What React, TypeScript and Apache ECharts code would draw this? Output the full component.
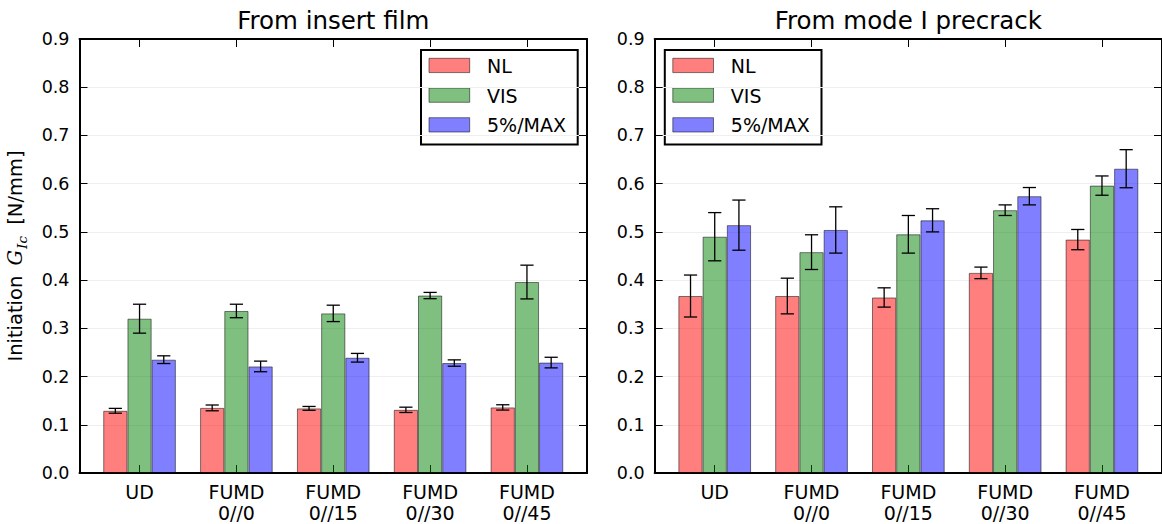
import React, { useEffect, useRef } from "react";
import * as echarts from "echarts";

const categories = ["UD", "FUMD\n0//0", "FUMD\n0//15", "FUMD\n0//30", "FUMD\n0//45"];
const seriesNames = ["NL", "VIS", "5%/MAX"];
const panelTitles = ["From insert film", "From mode I precrack"];

const insertNL = [0.129, 0.135, 0.134, 0.131, 0.136];
const insertNLErr = [0.005, 0.006, 0.004, 0.0055, 0.0055];
const insertVIS = [0.32, 0.336, 0.331, 0.368, 0.396];
const insertVISErr = [0.03, 0.014, 0.017, 0.0065, 0.035];
const insertMAX = [0.235, 0.221, 0.239, 0.228, 0.229];
const insertMAXErr = [0.008, 0.011, 0.009, 0.0066, 0.011];

const precrackNL = [0.367, 0.367, 0.364, 0.415, 0.484];
const precrackNLErr = [0.0435, 0.037, 0.02, 0.012, 0.021];
const precrackVIS = [0.49, 0.458, 0.495, 0.545, 0.596];
const precrackVISErr = [0.05, 0.036, 0.039, 0.011, 0.02];
const precrackMAX = [0.514, 0.504, 0.524, 0.574, 0.631];
const precrackMAXErr = [0.052, 0.048, 0.024, 0.018, 0.0395];

const FONT = "DejaVu Sans";
const colors = ["rgba(255,0,0,0.5)", "rgba(0,128,0,0.5)", "rgba(0,0,255,0.5)"];
const edge = "rgba(0,0,0,0.5)";
const BAR_UNIT = 0.25;
const X_MIN = -0.62;
const X_MAX = 4.62;

const panels = [
  { vals: [insertNL, insertVIS, insertMAX], errs: [insertNLErr, insertVISErr, insertMAXErr] },
  { vals: [precrackNL, precrackVIS, precrackMAX], errs: [precrackNLErr, precrackVISErr, precrackMAXErr] },
];

const grids = [
  { left: 79.5, top: 39, width: 507.5, height: 435 },
  { left: 654.7, top: 39, width: 508, height: 435 },
];

function buildOption() {
  const xAxis: any[] = [];
  const yAxis: any[] = [];
  const series: any[] = [];
  const graphic: any[] = [];
  const tickVals = categories.map((_, i) => i);

  grids.forEach((g, p) => {
    ["bottom", "top"].forEach((pos) => {
      xAxis.push({
        type: "value",
        gridIndex: p,
        position: pos,
        min: X_MIN,
        max: X_MAX,
        axisLine: { show: true, onZero: false, lineStyle: { color: "#000", width: 2 } },
        axisTick: { show: true, inside: true, length: 8, customValues: tickVals, lineStyle: { color: "#000", width: 1 } },
        axisLabel: {
          show: pos === "bottom",
          customValues: tickVals,
          formatter: (v: number) => categories[Math.round(v)],
          color: "#000",
          fontFamily: FONT,
          fontSize: 19,
          lineHeight: 21.5,
          margin: 8,
        },
        splitLine: { show: false },
      });
    });
    ["left", "right"].forEach((pos) => {
      yAxis.push({
        type: "value",
        gridIndex: p,
        position: pos,
        min: 0,
        max: 0.9,
        interval: 0.1,
        axisLine: { show: true, onZero: false, lineStyle: { color: "#000", width: 2 } },
        axisTick: { show: true, inside: true, length: 8, lineStyle: { color: "#000", width: 1 } },
        axisLabel: {
          show: pos === "left",
          formatter: (v: number) => v.toFixed(1),
          color: "#000",
          fontFamily: FONT,
          fontSize: 17.5,
          margin: 10,
        },
        splitLine: { show: pos === "left", lineStyle: { color: "#efefef", width: 1 } },
        ...(p === 0 && pos === "left"
          ? {
              name: "{n|Initiation }{g|G}{s|Ic}{n| [N/mm]}",
              nameLocation: "middle",
              nameRotate: 90,
              nameGap: 51,
              nameTextStyle: {
                rich: {
                  n: { fontFamily: FONT, fontSize: 19.5, color: "#000", lineHeight: 26, verticalAlign: "middle" },
                  g: { fontFamily: "DejaVu Serif", fontStyle: "italic", fontSize: 19.5, color: "#000", lineHeight: 26, verticalAlign: "middle", padding: [0, 1, 0, 4] },
                  s: { fontFamily: "DejaVu Serif", fontStyle: "italic", fontSize: 13.5, color: "#000", lineHeight: 13, verticalAlign: "bottom", padding: [0, 5, 0, 0] },
                },
              },
            }
          : {}),
      });
    });

    const xi = p * 2;
    const yi = p * 2;
    const pv = panels[p];
    seriesNames.forEach((name, k) => {
      series.push({
        type: "bar",
        name,
        xAxisIndex: xi,
        yAxisIndex: yi,
        barWidth: (g.width / (X_MAX - X_MIN)) * BAR_UNIT,
        barGap: "0%",
        itemStyle: { color: colors[k], borderColor: edge, borderWidth: 1 },
        data: pv.vals[k].map((v, i) => [i, v]),
        z: 2,
      });
    });
    const errData: number[][] = [];
    seriesNames.forEach((_, k) => {
      pv.vals[k].forEach((v, i) => {
        errData.push([i + (k - 1) * BAR_UNIT, v, pv.errs[k][i]]);
      });
    });
    series.push({
      type: "custom",
      name: "err" + p,
      xAxisIndex: xi,
      yAxisIndex: yi,
      z: 5,
      data: errData,
      renderItem: (params: any, api: any) => {
        const x = api.value(0);
        const y = api.value(1);
        const e = api.value(2);
        const top = api.coord([x, y + e]);
        const bot = api.coord([x, y - e]);
        const cap = 6.6;
        const st = { stroke: "#000", lineWidth: 1.3 };
        return {
          type: "group",
          children: [
            { type: "line", shape: { x1: top[0], y1: top[1], x2: bot[0], y2: bot[1] }, style: st },
            { type: "line", shape: { x1: top[0] - cap, y1: top[1], x2: top[0] + cap, y2: top[1] }, style: st },
            { type: "line", shape: { x1: bot[0] - cap, y1: bot[1], x2: bot[0] + cap, y2: bot[1] }, style: st },
          ],
        };
      },
    });

    // title
    graphic.push({
      type: "text",
      x: g.left + (p === 0 ? g.width : 507.3) / 2,
      y: 20,
      style: { text: panelTitles[p], fontFamily: FONT, fontSize: 24.5, fill: "#000", align: "center", verticalAlign: "middle" },
    });

    // legend
    const children: any[] = [
      { type: "rect", shape: { x: 0, y: 0, width: 156.7, height: 94.5 }, style: { fill: "#fff", stroke: "#000", lineWidth: 2 } },
    ];
    seriesNames.forEach((name, k) => {
      children.push({
        type: "rect",
        shape: { x: 8, y: 8.3 + k * 29.7, width: 40.7, height: 14.3 },
        style: { fill: colors[k], stroke: edge, lineWidth: 1 },
      });
      children.push({
        type: "text",
        x: 66,
        y: 15.8 + k * 29.7,
        style: { text: name, fontFamily: FONT, fontSize: 19, fill: "#000", align: "left", verticalAlign: "middle" },
      });
    });
    graphic.push({ type: "group", x: p === 0 ? 421 : 664.8, y: 50, z: 100, children });
  });

  return {
    animation: false,
    backgroundColor: "#fff",
    grid: grids.map((g) => ({ ...g, containLabel: false })),
    xAxis,
    yAxis,
    series,
    graphic,
  };
}

export default function App() {
  const ref = useRef<HTMLDivElement>(null);
  useEffect(() => {
    if (!ref.current) return;
    const chart = echarts.init(ref.current, undefined, { renderer: "svg" });
    chart.setOption(buildOption() as any);
    return () => chart.dispose();
  }, []);
  return (
    <div
      ref={ref}
      style={{ position: "fixed", left: 0, top: 0, width: 1162, height: 524, background: "#fff" }}
    />
  );
}
